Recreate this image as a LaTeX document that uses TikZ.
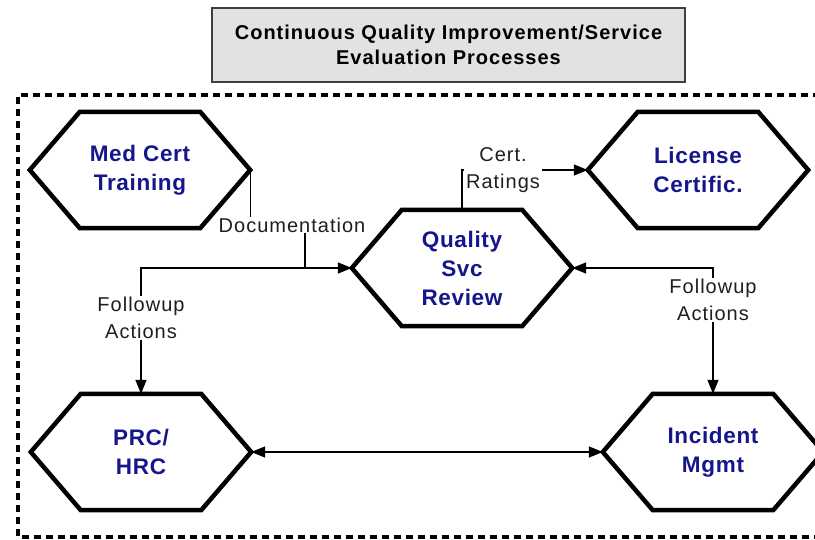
\documentclass[tikz,border=0pt]{standalone}
\usepackage{fontspec}
\setmainfont{Liberation Sans}
\usetikzlibrary{arrows.meta}
\definecolor{navy}{RGB}{22,22,140}
\definecolor{titlegray}{RGB}{226,226,226}
\definecolor{labelgray}{RGB}{30,30,30}
\tikzset{
  hexnode/.style={minimum width=220pt, minimum height=116pt, inner sep=0pt, align=center,
    text=navy, font=\fontsize{22.5}{29}\selectfont\bfseries\addfontfeature{LetterSpace=3}},
  hexline/.style={line width=4.5pt, line join=miter},
  conn/.style={line width=1.4pt, >={Triangle[length=14pt,width=11pt]}},
  elabel/.style={fill=white, inner sep=1pt, align=center, text=labelgray,
    font=\fontsize{20}{27}\selectfont\addfontfeature{LetterSpace=5}},
  titlebox/.style={draw=black!75, line width=1.6pt, fill=titlegray, align=center,
    font=\fontsize{20}{25}\selectfont\bfseries\addfontfeature{LetterSpace=5}},
  frame/.style={line width=3.5pt, dash pattern=on 7pt off 5pt},
}
\newcommand\hexdraw[1]{\draw[hexline] (#1.west) -- ([xshift=50pt]#1.north west) -- ([xshift=-50pt]#1.north east) -- (#1.east) -- ([xshift=-50pt]#1.south east) -- ([xshift=50pt]#1.south west) -- cycle;}
\begin{document}
\begin{tikzpicture}[x=1pt,y=-1pt]
\useasboundingbox (0,0) rectangle (815,539);
\clip (0,0) rectangle (815,539);
\fill[white] (0,0) rectangle (815,539);

% title
\node[titlebox, minimum width=473pt, minimum height=74pt, inner sep=0pt] (title) at (448.5,45)
  {Continuous Quality Improvement/Service\\Evaluation Processes};

% dashed frame
\draw[frame] (820,95) -- (18,95) -- (18,537) -- (820,537);

% hexagon nodes
\node[hexnode] (med) at (140,170) {Med Cert\\Training};
\node[hexnode] (lic) at (698,170) {License\\Certific.};
\node[hexnode] (qsr) at (462,268) {Quality\\Svc\\Review};
\node[hexnode] (prc) at (141,452) {PRC/\\HRC};
\node[hexnode] (inc) at (713,452) {Incident\\Mgmt};
\hexdraw{med}
\hexdraw{lic}
\hexdraw{qsr}
\hexdraw{prc}
\hexdraw{inc}

% connector coordinates
\coordinate (docpos) at (292,225);
\coordinate (docjoin) at (305,225);
\coordinate (certpos) at (503,170);
\coordinate (fuL) at (141,318);
\coordinate (fuR) at (713,300);

% connectors
\draw[conn,->] (med.east) |- (docjoin) |- (qsr.west);
\draw[conn,->] (qsr.west) -| (prc.north);
\draw[conn,->] (qsr.north) |- (lic.west);
\draw[conn,<->] (qsr.east) -| (inc.north);
\draw[conn,<->] (prc.east) -- (inc.west);

% connector labels
\node[elabel] (doclab) at (docpos) {Documentation};
\node[elabel, inner xsep=2pt] (certlab) at (certpos) {Cert.\\Ratings};
\node[elabel] (fulab) at (fuL) {Followup\\Actions};
\node[elabel] (furab) at (fuR) {Followup\\Actions};
\end{tikzpicture}
\end{document}
